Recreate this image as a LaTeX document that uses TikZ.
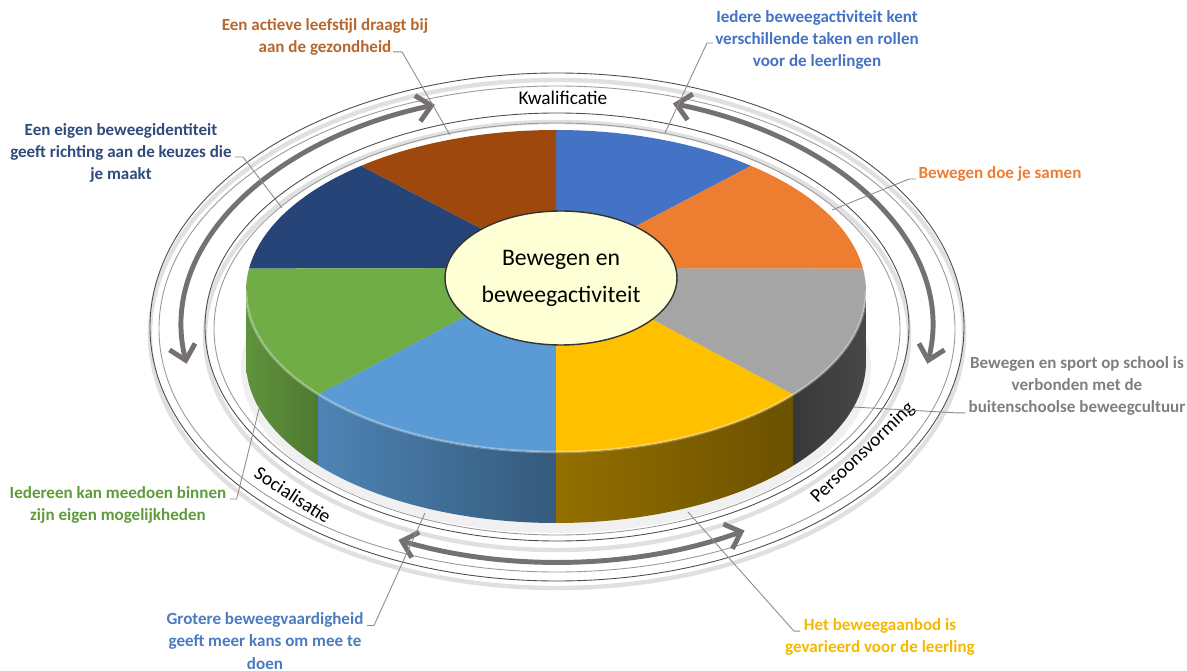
\documentclass[tikz,border=0pt]{standalone}
\usepackage{fontspec}
\setmainfont{Carlito}
\usetikzlibrary{arrows.meta,calc,shapes.geometric}

\definecolor{sliceblue}{HTML}{4472C4}
\definecolor{slicebrown}{HTML}{9E480E}
\definecolor{slicenavy}{HTML}{264478}
\definecolor{slicegreen}{HTML}{70AD47}
\definecolor{slicesky}{HTML}{5B9BD5}
\definecolor{sliceyellow}{HTML}{FFC000}
\definecolor{slicegray}{HTML}{A5A5A5}
\definecolor{sliceorange}{HTML}{ED7D31}
\definecolor{arrowgray}{HTML}{767171}
\definecolor{corefill}{HTML}{FFFFD6}
\definecolor{txtbrown}{HTML}{B5682E}
\definecolor{txtblue}{HTML}{4472C4}
\definecolor{txtnavy}{HTML}{2F4B7C}
\definecolor{txtorange}{HTML}{ED7D31}
\definecolor{txtgray}{HTML}{7F7F7F}
\definecolor{txtyellow}{HTML}{F4B800}
\definecolor{txtsky}{HTML}{4A7BC0}
\definecolor{txtgreen}{HTML}{5E9B3A}

\begin{document}
\begin{tikzpicture}[x=0.02cm,y=0.02cm,>={Straight Barb[length=8pt,width=15pt]},
    rim/.style={x radius=310,y radius=161},
    loop/.style={x radius=375,y radius=235},
    note/.style={font=\fontsize{9.7}{12.6}\selectfont\bfseries,align=center,inner sep=0pt},
    ring label/.style={font=\fontsize{11}{13}\selectfont,inner sep=0pt},
    leader/.style={draw=black!45,line width=0.5pt},
    loop arrow/.style={<->,draw=arrowgray,line width=2.8pt},
    edge line/.style={draw=black!70,line width=0.5pt},
    edge glow/.style={draw=black!12,line width=2.5pt}]
  \useasboundingbox (0,0) rectangle (1187,670);
  \coordinate (ec) at (556,379);
  \coordinate (pc) at (556,402);
  \coordinate (rc) at (557,343);

  \draw[edge glow] (557,336) ellipse[x radius=407,y radius=254];
  \draw[edge glow] (557,334) ellipse[x radius=352,y radius=214];
  \draw[edge line] (557,343) ellipse[x radius=407,y radius=254];
  \draw[edge line,draw=black!40] (557,341) ellipse[x radius=398,y radius=243];
  \draw[edge line] (557,343) ellipse[x radius=352,y radius=214];
  \draw[edge line,draw=black!40] (557,341) ellipse[x radius=343,y radius=206];

  \fill[black!6] ($(ec)+(0,-77)$) ellipse[x radius=315,y radius=165];
  \shade[left color=slicegreen!85!black,right color=slicegreen!70!black]
    ($(ec)+(180:310 and 161)$) arc[rim,start angle=180,end angle=220] -- ++(0,-71)
    arc[rim,start angle=220,end angle=180] -- cycle;
  \shade[left color=slicesky!85!black,right color=slicesky!58!black]
    ($(ec)+(220:310 and 161)$) arc[rim,start angle=220,end angle=270] -- ++(0,-71)
    arc[rim,start angle=270,end angle=220] -- cycle;
  \shade[left color=sliceyellow!58!black,right color=sliceyellow!42!black]
    ($(ec)+(270:310 and 161)$) arc[rim,start angle=270,end angle=320] -- ++(0,-71)
    arc[rim,start angle=320,end angle=270] -- cycle;
  \shade[left color=black!78,right color=black!72]
    ($(ec)+(320:310 and 161)$) arc[rim,start angle=320,end angle=360] -- ++(0,-71)
    arc[rim,start angle=360,end angle=320] -- cycle;

  \fill[sliceblue] (pc) -- ($(ec)+(51:310 and 161)$) arc[rim,start angle=51,end angle=90] -- cycle;
  \fill[slicebrown] (pc) -- ($(ec)+(90:310 and 161)$) arc[rim,start angle=90,end angle=129] -- cycle;
  \fill[slicenavy] (pc) -- ($(ec)+(129:310 and 161)$) arc[rim,start angle=129,end angle=172] -- cycle;
  \fill[slicegreen] (pc) -- ($(ec)+(172:310 and 161)$) arc[rim,start angle=172,end angle=220] -- cycle;
  \fill[slicesky] (pc) -- ($(ec)+(220:310 and 161)$) arc[rim,start angle=220,end angle=270] -- cycle;
  \fill[sliceyellow] (pc) -- ($(ec)+(270:310 and 161)$) arc[rim,start angle=270,end angle=320] -- cycle;
  \fill[slicegray] (pc) -- ($(ec)+(320:310 and 161)$) arc[rim,start angle=320,end angle=368] -- cycle;
  \fill[sliceorange] (pc) -- ($(ec)+(8:310 and 161)$) arc[rim,start angle=8,end angle=51] -- cycle;
  \draw[white,opacity=0.3,line width=1.5pt] ($(ec)+(180:310 and 161)$) arc[rim,start angle=180,end angle=360];

  \node[ellipse,draw=black!80,line width=0.8pt,fill=corefill,minimum width=4.64cm,minimum height=2.68cm,
        inner sep=0pt,align=center,font=\fontsize{13.5}{21}\selectfont] (core) at (561,392) {Bewegen en\\beweegactiviteit};

  \draw[loop arrow] ($(rc)+(189:375 and 235)$) arc[loop,start angle=189,end angle=109];
  \draw[loop arrow] ($(rc)+(72:375 and 235)$) arc[loop,start angle=72,end angle=-9];
  \draw[loop arrow] ($(rc)+(245:375 and 235)$) arc[loop,start angle=245,end angle=300];

  \node[ring label] (kwal) at (563,572) {Kwalificatie};
  \node[ring label,rotate=-33] (soc) at (293,175) {Socialisatie};
  \node[ring label,rotate=44] (pers) at (863,217) {Persoonsvorming};

  \node[note,text=txtbrown] (health) at (325,633) {Een actieve leefstijl draagt bij\\aan de gezondheid};
  \node[note,text=txtblue] (roles) at (817,630) {Iedere beweegactiviteit kent\\verschillende taken en rollen\\voor de leerlingen};
  \node[note,text=txtnavy] (identity) at (121,517) {Een eigen beweegidentiteit\\geeft richting aan de keuzes die\\je maakt};
  \node[note,text=txtorange] (together) at (1000,496) {Bewegen doe je samen};
  \node[note,text=txtgray] (culture) at (1077,284) {Bewegen en sport op school is\\verbonden met de\\buitenschoolse beweegcultuur};
  \node[note,text=txtyellow] (variety) at (880,33) {Het beweegaanbod is\\gevarieerd voor de leerling};
  \node[note,text=txtsky] (skill) at (265,29) {Grotere beweegvaardigheid\\geeft meer kans om mee te\\doen};
  \node[note,text=txtgreen] (inclusion) at (118,165) {Iedereen kan meedoen binnen\\zijn eigen mogelijkheden};

  \coordinate (health tip) at (450,535);
  \coordinate (roles tip) at (665,537);
  \coordinate (identity tip) at (282,462);
  \coordinate (together tip) at (832,460);
  \coordinate (culture tip) at (853,263);
  \coordinate (variety tip) at (688,158);
  \coordinate (skill tip) at (425,157);
  \coordinate (inclusion tip) at (260,265);

  \draw[leader] ($(health.south)+(68,4)$) -- ++(9,0) -- (health tip);
  \draw[leader] ($(roles.west)+(-2,-3)$) -- ++(-6,0) -- (roles tip);
  \draw[leader] ($(identity.east)+(3,-4)$) -- ++(8,0) -- (identity tip);
  \draw[leader] ($(together.west)+(-2,-5)$) -- ++(-7,0) -- (together tip);
  \draw[leader] ($(culture.south west)+(-3,3)$) -- ++(-8,0) -- (culture tip);
  \draw[leader] ($(variety.north)+(-80,-13)$) -- ++(-6,0) -- (variety tip);
  \draw[leader] ($(skill.north)+(102,-13)$) -- ++(7,0) -- (skill tip);
  \draw[leader] ($(inclusion.east)+(3,6)$) -- ++(7,0) -- (inclusion tip);
\end{tikzpicture}
\end{document}
